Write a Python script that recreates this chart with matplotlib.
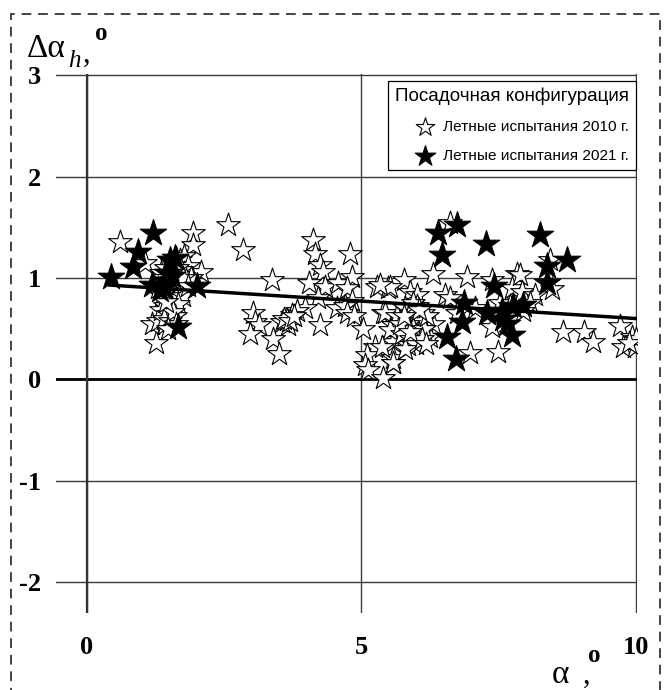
#!/usr/bin/env python3
"""Scatter of delta alpha_h vs alpha, flight tests 2010 / 2021, landing config."""
import matplotlib
matplotlib.use("Agg")
import matplotlib.pyplot as plt
from matplotlib.patches import Rectangle

plt.rcParams["axes.unicode_minus"] = False

# flight tests 2010 (open stars)
x_2010 = [
    0.61, 1.06, 1.94, 1.94, 2.09, 2.58, 1.27, 1.18, 1.43, 1.30,
    1.35, 1.45, 1.55, 1.62, 1.70, 1.78, 1.85, 1.72, 1.60, 1.50,
    1.40, 1.55, 1.68, 1.80, 1.90, 1.45, 1.58, 1.70, 1.38, 1.50,
    1.62, 1.75, 1.42, 1.55, 1.66, 1.35, 1.48, 1.60, 1.40, 1.52,
    1.58, 1.45, 1.65, 1.52, 1.75, 1.85, 1.40, 1.30, 1.62, 1.48,
    2.84, 3.37, 4.13, 4.16, 4.80, 4.25, 4.31, 4.04, 4.34, 4.58,
    4.83, 4.74, 4.22, 4.83, 4.55, 4.70, 4.74, 4.86, 3.98, 3.83,
    3.73, 3.64, 3.67, 3.55, 4.25, 3.03, 3.07, 3.13, 2.97, 3.40,
    3.51, 5.04, 5.28, 5.49, 5.40, 5.58, 5.58, 5.25, 5.10, 5.07,
    5.13, 5.40, 5.58, 3.60, 3.70, 3.78,
    6.62, 6.30, 6.93, 5.78, 5.52, 7.38, 7.83, 5.89, 6.01, 6.53,
    6.62, 5.43, 5.65, 5.83, 6.01, 6.13, 6.31, 6.25, 5.58, 5.86,
    5.58, 6.98, 7.50, 6.74, 7.07, 7.38, 7.53, 7.83, 7.74, 5.34,
    5.52, 5.38, 5.58,
    5.80, 5.90, 6.00, 6.10, 5.85, 5.95, 6.05, 6.15, 5.75, 5.90,
    6.00, 5.80, 6.10, 6.20, 5.70, 5.95, 6.05, 5.88, 5.78, 6.18,
    8.44, 7.89, 8.47, 7.92, 8.17, 8.07, 7.95, 7.71, 8.68, 9.05,
    9.23, 9.71, 9.77, 9.93, 9.99, 10.0, 9.87,
]
y_2010 = [
    1.36, 1.15, 1.44, 1.33, 1.06, 1.52, 0.36, 0.55, 0.55, 0.58,
    1.05, 1.10, 1.15, 1.20, 1.18, 1.22, 1.12, 1.08, 1.02, 0.98,
    0.95, 0.92, 0.95, 0.98, 1.00, 0.88, 0.85, 0.88, 0.82, 0.78,
    0.80, 0.82, 0.72, 0.70, 0.74, 0.68, 0.64, 0.62, 0.60, 0.58,
    0.66, 0.76, 1.10, 1.05, 1.00, 0.92, 1.00, 0.90, 0.55, 0.50,
    1.28, 0.98, 1.38, 1.24, 1.24, 1.13, 1.06, 0.95, 0.91, 0.95,
    1.01, 0.90, 0.80, 0.77, 0.70, 0.72, 0.65, 0.62, 0.70, 0.67,
    0.63, 0.59, 0.54, 0.57, 0.54, 0.65, 0.57, 0.54, 0.45, 0.40,
    0.25, 0.50, 0.91, 0.90, 0.65, 0.54, 0.39, 0.32, 0.24, 0.14,
    0.09, 0.01, 0.16, 0.60, 0.58, 0.62,
    1.54, 1.04, 1.01, 0.98, 0.91, 0.98, 1.04, 0.86, 0.83, 0.83,
    0.80, 0.65, 0.62, 0.68, 0.72, 0.65, 0.55, 0.42, 0.37, 0.34,
    0.21, 0.26, 0.27, 0.65, 0.70, 0.52, 0.75, 0.78, 0.90, 0.93,
    0.49, 0.32, 0.16,
    0.70, 0.65, 0.60, 0.58, 0.55, 0.50, 0.45, 0.50, 0.45, 0.40,
    0.35, 0.30, 0.40, 0.62, 0.55, 0.75, 0.68, 0.47, 0.62, 0.35,
    1.18, 1.03, 0.89, 0.86, 0.83, 0.75, 0.67, 0.72, 0.47, 0.47,
    0.37, 0.53, 0.32, 0.42, 0.32, 0.40, 0.36,
]

# flight tests 2021 (filled stars)
x_2021 = [
    0.44, 1.20, 0.94, 0.84, 1.52, 1.18, 1.40, 1.47, 2.00, 1.67,
    1.61, 1.34, 1.45, 1.55,
    6.74, 6.40, 6.48, 7.27, 7.41, 6.87, 6.83, 6.56, 6.73, 7.29,
    7.59, 7.74, 7.56, 7.77, 8.26, 8.74, 8.39, 8.39, 7.95, 7.65,
]
y_2021 = [
    1.01, 1.44, 1.26, 1.11, 1.18, 0.93, 0.91, 1.05, 0.92, 0.52,
    1.20, 0.88, 0.97, 1.02,
    1.52, 1.44, 1.23, 1.34, 0.92, 0.75, 0.57, 0.42, 0.20, 0.65,
    0.60, 0.44, 0.67, 0.72, 1.42, 1.18, 1.12, 0.95, 0.73, 0.55,
]

# linear trend
trend_x = [0.42, 10.0]
trend_y = [0.93, 0.60]

x_ticks = [0, 5, 10]
y_ticks = [-2, -1, 0, 1, 2, 3]

W, H = 667, 690
fig = plt.figure(figsize=(W / 100, H / 100), dpi=100)
ax = fig.add_axes([56 / W, 1 - 613.3 / H, 580.8 / W, 538.9 / H])

ax.scatter(x_2010, y_2010, marker="*", s=320, facecolors="white",
           edgecolors="black", linewidths=0.8, zorder=3,
           label="Летные испытания 2010 г.")
ax.scatter(x_2021, y_2021, marker="*", s=400, facecolors="black",
           edgecolors="black", linewidths=0.8, zorder=4,
           label="Летные испытания 2021 г.")
ax.plot(trend_x, trend_y, color="black", lw=2.5, zorder=5)

ax.set_xlim(-0.56, 10.02)
ax.set_ylim(-2.31, 3.01)
ax.set_xticks(x_ticks)
ax.set_yticks(y_ticks)
ax.grid(True, color="#3a3a3a", lw=1.0)
ax.axhline(0, color="black", lw=2, zorder=2)
ax.axvline(0, color="#333333", lw=1.6, zorder=2)
for s in ax.spines.values():
    s.set_visible(False)
ax.tick_params(length=0)
ax.tick_params(axis="y", pad=11)
ax.tick_params(axis="x", pad=16)
for lab in ax.get_xticklabels() + ax.get_yticklabels():
    lab.set_fontfamily("Liberation Serif")
    lab.set_fontweight("bold")
    lab.set_fontsize(19)

leg = ax.legend(loc="upper right", bbox_to_anchor=(636 / W, 1 - 81 / H),
                bbox_transform=fig.transFigure, borderaxespad=0,
                title="Посадочная конфигурация", fancybox=False,
                edgecolor="black", framealpha=1,
                prop={"family": "Liberation Sans", "size": 11.1},
                handletextpad=0.35, labelspacing=0.95, borderpad=0.45,
                handlelength=1.6, markerscale=0.78, alignment="right")
leg.get_title().set_fontfamily("Liberation Sans")
leg.get_title().set_fontsize(13.6)
leg.get_frame().set_linewidth(0.9)

# axis labels built from pieces (figure pixels)
def ftxt(px, py, s, **kw):
    fig.text(px / W, 1 - py / H, s, **kw)

ftxt(27, 57, "Δα", family="Liberation Serif", fontsize=24, va="baseline")
ftxt(68, 67, "h", family="Liberation Serif", style="italic", fontsize=18, va="baseline")
ftxt(83, 62, ",", family="Liberation Serif", fontsize=22, va="baseline")
ftxt(95, 40, "o", family="Liberation Serif", fontweight="bold", fontsize=18, va="baseline")

ftxt(552, 683, "α", family="Liberation Serif", fontsize=24, va="baseline")
ftxt(583, 683, ",", family="Liberation Serif", fontsize=22, va="baseline")
ftxt(588, 662, "o", family="Liberation Serif", fontweight="bold", fontsize=18, va="baseline")

# dashed frame around the whole picture
fig.patches.append(Rectangle((11 / W, -0.05), (660 - 11) / W, 1.05 - 14 / H,
                             transform=fig.transFigure, fill=False,
                             ls=(0, (5, 3.5)), lw=1.4, edgecolor="#444444"))

fig.savefig("out.png", dpi=100)
